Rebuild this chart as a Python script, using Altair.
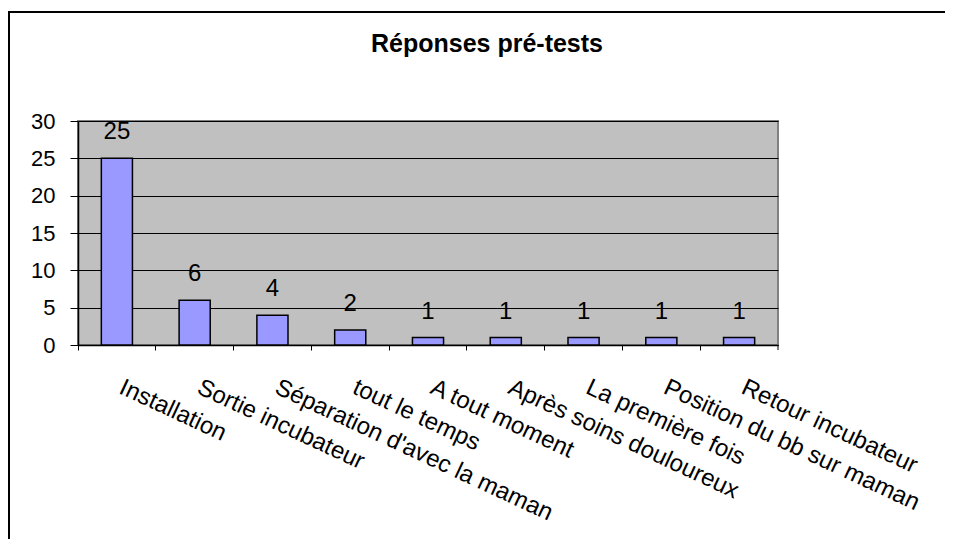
import altair as alt
import pandas as pd

categories = ["Installation", "Sortie incubateur", "Séparation d'avec la maman",
              "tout le temps", "A tout moment", "Après soins douloureux",
              "La première fois", "Position du bb sur maman", "Retour incubateur"]
values = [25, 6, 4, 2, 1, 1, 1, 1, 1]
y_ticks = [0, 5, 10, 15, 20, 25, 30]
title_text = "Réponses pré-tests"

FONT = "Liberation Sans"
W, H = 700, 224

df = pd.DataFrame({"cat": categories, "val": values})

x_enc = alt.X("cat:N", sort=None, title=None,
              scale=alt.Scale(paddingInner=0, paddingOuter=0),
              axis=alt.Axis(bandPosition=0, labelAngle=25, labelAlign="left",
                            labelBaseline="top", labelOffset=9, labelPadding=25,
                            labelFontSize=24, labelFont=FONT, labelColor="black",
                            labelLimit=500, labelOverlap=False,
                            tickSize=5, tickColor="black", domainColor="black",
                            domainWidth=1.5, grid=False))
y_enc = alt.Y("val:Q", title=None,
              scale=alt.Scale(domain=[0, 30], nice=False),
              axis=alt.Axis(values=y_ticks, tickSize=8, tickColor="black",
                            labelPadding=15, labelFontSize=22, labelFont=FONT,
                            labelColor="black", labelOverlap=False,
                            domainColor="black", domainWidth=1.5,
                            grid=True, gridColor="black", gridWidth=1))

base = alt.Chart(df)
bars = base.mark_bar(width=alt.RelativeBandSize(0.4), color="#9999FF",
                     stroke="black", strokeWidth=1.5).encode(x=x_enc, y=y_enc)
labels = base.mark_text(dy=-19, baseline="alphabetic", fontSize=24, font=FONT,
                        color="black").encode(x=x_enc, y=y_enc, text="val:Q")

frame_df = pd.DataFrame({"k": [0]})
frame = alt.Chart(frame_df).mark_rect(fill="transparent", stroke="black",
                                      strokeWidth=2).encode(
    x=alt.value(-69), x2=alt.value(2000), y=alt.value(-109), y2=alt.value(2000))
end_tick = alt.Chart(frame_df).mark_rule(color="black", strokeWidth=1).encode(
    x=alt.value(W), y=alt.value(H), y2=alt.value(H + 5))

chart = alt.layer(bars, labels, end_tick, frame).properties(
    width=W, height=H,
    title=alt.TitleParams(title_text, fontSize=25, font=FONT, fontWeight="bold",
                          color="black", anchor="middle", dx=59, offset=-46),
    autosize=alt.AutoSizeParams(type="none"),
    padding={"left": 70, "top": 113, "right": 167, "bottom": 194},
    background="white",
).configure_view(fill="#C0C0C0", stroke="#808080", strokeWidth=2)

chart.save("out.html", embed_options={"renderer": "svg", "actions": False})
